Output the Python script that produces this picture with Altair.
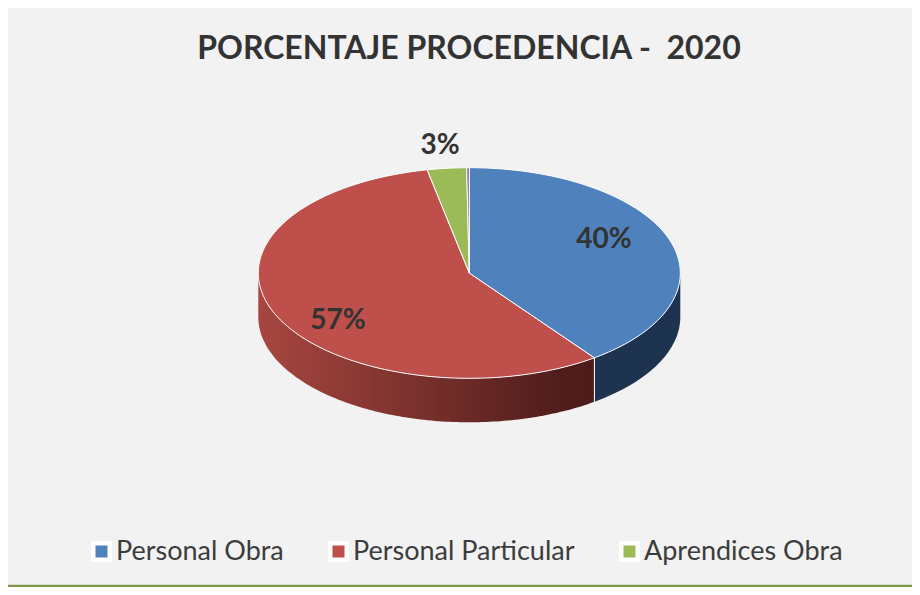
import math
import altair as alt
import pandas as pd

# --- chart values -----------------------------------------------------------
TITLE = "PORCENTAJE PROCEDENCIA -\u00a0 2020"
names = ["Personal Obra", "Personal Particular", "Aprendices Obra", "Otros"]
shares = [39.9, 56.9, 3.0, 0.2]
top_colors = ["#4f81bd", "#be4f4b", "#9bbb59", "#8064a2"]
legend_names = names[:3]

# --- pie geometry (unit pie, squashed by the x / y scales) --------------------
W, H = 904, 579
CX, CY, RX, RY, DEPTH = 461.3, 265.0, 211.0, 105.3, 44.0
x_dom = [(0 - CX) / RX, (W - CX) / RX]
y_dom = [(CY - H) / RY, CY / RY]
x_enc = alt.X("x:Q", axis=None, scale=alt.Scale(domain=x_dom, nice=False, zero=False))
y_enc = alt.Y("y:Q", axis=None, scale=alt.Scale(domain=y_dom, nice=False, zero=False))


def arc_pts(a0, a1):
    n = max(2, int(abs(a1 - a0)) + 2)
    return [a0 + (a1 - a0) * k / (n - 1) for k in range(n)]


def pt(a, drop=0.0):
    r = math.radians(a)
    return (math.sin(r), math.cos(r) - drop)


def shape(points, fill, stroke=None, sw=0.0):
    rows = [{"x": p[0], "y": p[1], "i": k} for k, p in enumerate(points + points[:1])]
    kw = {"fill": fill, "strokeWidth": sw, "stroke": stroke or "transparent"}
    return alt.Chart(pd.DataFrame(rows)).mark_line(**kw, interpolate="linear").encode(
        x=x_enc, y=y_enc, order=alt.Order("i:Q")
    )


bounds = [0.0]
for s in shares:
    bounds.append(bounds[-1] + s * 3.6)

drop = DEPTH / RY
wall = []


def wall_shape(a0, a1, fill):
    up = [pt(a) for a in arc_pts(a0, a1)]
    lo = [pt(a, drop) for a in arc_pts(a1, a0)]
    return shape(up + lo, fill)


wall.append(wall_shape(90, bounds[1], "#1d3350"))
red_grad = alt.LinearGradient(
    gradient="linear", x1=1, x2=0, y1=0, y2=0,
    stops=[
        alt.GradientStop(offset=0, color="#4c1b1a"),
        alt.GradientStop(offset=0.12, color="#521e1c"),
        alt.GradientStop(offset=1, color="#a8463f"),
    ],
)
wall.append(wall_shape(bounds[1], 270, red_grad))
a = bounds[1]
divider = pd.DataFrame([
    {"x": pt(a)[0], "y": pt(a)[1], "i": 0},
    {"x": pt(a, drop)[0], "y": pt(a, drop)[1], "i": 1},
])
wall.append(alt.Chart(divider).mark_line(color="#ffffff", strokeWidth=1).encode(
    x=x_enc, y=y_enc, order=alt.Order("i:Q")))

faces = []
for k in [1, 0, 2, 3]:
    pts = [(0.0, 0.0)] + [pt(t) for t in arc_pts(bounds[k], bounds[k + 1])]
    faces.append(shape(pts, top_colors[k], "#ffffff", 1.0))


def text_layer(txt, px, py, size, color, weight="bold"):
    return alt.Chart(pd.DataFrame({"t": [txt]})).mark_text(
        font="Lato", fontSize=size, fontWeight=weight, color=color,
        align="center", baseline="middle",
    ).encode(text="t:N", x=alt.value(px), y=alt.value(py))


labels = [
    text_layer(f"{round(shares[0])}%", 596, 232, 28, "#333333"),
    text_layer(f"{round(shares[1])}%", 330, 313, 28, "#333333"),
    text_layer(f"{round(shares[2])}%", 432, 138, 28, "#333333"),
]
title = text_layer(TITLE, 461, 41, 32, "#333333")

legend_layer = alt.Chart(pd.DataFrame({"name": legend_names, "x": [0.0] * 3, "y": [0.0] * 3})).mark_square(
    size=0, opacity=1
).encode(
    x=x_enc, y=y_enc,
    color=alt.Color(
        "name:N",
        scale=alt.Scale(domain=legend_names, range=top_colors[:3]),
        legend=alt.Legend(
            orient="none", legendX=80, legendY=530, direction="horizontal", columns=3,
            title=None, symbolType="square", symbolSize=272,
            symbolFillColor=None, symbolStrokeColor="#ffffff", symbolStrokeWidth=4.5,
            symbolOpacity=1, labelFont="Lato", labelFontSize=27, labelColor="#3c3c3c",
            labelOffset=1, columnPadding=37, gridAlign="none", labelLimit=400,
        ),
    ),
)

rule_grey = alt.Chart(pd.DataFrame({"a": [0]})).mark_rule(color="#d9d9d9", strokeWidth=1).encode(
    x=alt.value(0), x2=alt.value(W), y=alt.value(576.5))
rule_green = alt.Chart(pd.DataFrame({"a": [0]})).mark_rule(color="#7f9c45", strokeWidth=2).encode(
    x=alt.value(0), x2=alt.value(W), y=alt.value(578))

chart = alt.layer(legend_layer, *wall, *faces, *labels, title, rule_grey, rule_green).resolve_scale(
    x="shared", y="shared"
).properties(
    width=W, height=H, background="#f2f2f2", padding=0, autosize=alt.AutoSizeParams(type="none")
).configure_view(stroke=None)

chart.save("out.html", embed_options={"renderer": "svg", "actions": False})
